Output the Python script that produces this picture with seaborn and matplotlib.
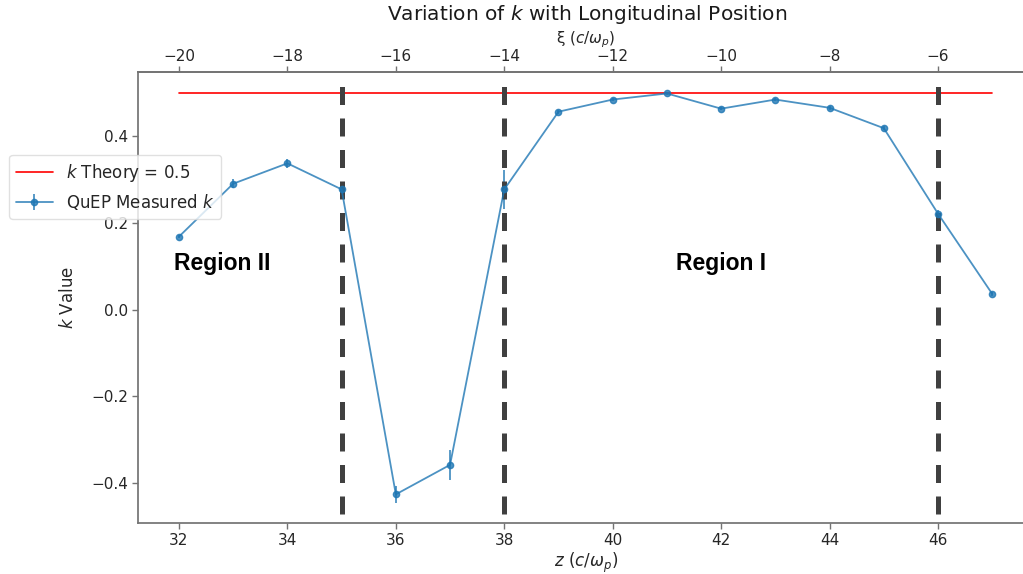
import numpy as np
import pandas as pd
import matplotlib
matplotlib.use("Agg")
import matplotlib.pyplot as plt
import seaborn as sns

# Measured k along the beam (z in units of c/omega_p)
z_pos = [32, 33, 34, 35, 36, 37, 38, 39, 40, 41, 42, 43, 44, 45, 46, 47]
k_measured = [0.168, 0.290, 0.337, 0.277, -0.426, -0.358, 0.277, 0.456,
              0.484, 0.498, 0.463, 0.484, 0.465, 0.418, 0.221, 0.036]
k_err = [0.004, 0.010, 0.010, 0.015, 0.020, 0.035, 0.045, 0.005,
         0.004, 0.004, 0.004, 0.004, 0.004, 0.005, 0.008, 0.004]
k_theory = 0.5
xi_offset = 52          # xi = z - xi_offset
region_bounds = [35, 38, 46]
region_labels = ["Region II", "Region I"]
region_label_z = [32.8, 42.0]
region_label_k = 0.107

sns.set_theme(style="white")
plt.rcParams["font.family"] = ["DejaVu Sans"]
plt.rcParams["axes.edgecolor"] = "0.45"
plt.rcParams["xtick.color"] = "0.45"
plt.rcParams["ytick.color"] = "0.45"
plt.rcParams["xtick.labelcolor"] = "0.15"
plt.rcParams["ytick.labelcolor"] = "0.15"

df = pd.DataFrame({"z": z_pos, "k": k_measured, "err": k_err})
theory_df = pd.DataFrame({"z": [z_pos[0], z_pos[-1]], "k": [k_theory, k_theory]})

fig = plt.figure(figsize=(10.23, 5.74), dpi=100)
W, H = 1023, 574
ax = fig.add_axes([138.3 / W, (H - 523) / H, 894.6 / W, 451 / H])

sns.lineplot(data=theory_df, x="z", y="k", color="red", linewidth=1.2,
             label=r"$k$ Theory = 0.5", ax=ax)
ax.errorbar(df["z"], df["k"], yerr=df["err"], color="#1f77b4", linewidth=1.3,
            marker="o", markersize=4.5, elinewidth=1.3, capsize=0, alpha=0.8,
            label=r"QuEP Measured $k$")

for zb in region_bounds:
    ax.axvline(zb, ymin=0.02, ymax=0.9956, color="0.25", linewidth=3.6,
               linestyle=(0, (3.6, 2.7)))

for lab, zx in zip(region_labels, region_label_z):
    ax.text(zx, region_label_k, lab, fontsize=16.5, fontweight="bold",
            family="Liberation Sans", color="black", ha="center", va="center")

ax.set_xlim(31.25, 47.75)
ax.set_ylim(-0.492, 0.5475)
ax.set_xticks(np.arange(32, 47, 2))
ax.set_yticks([-0.4, -0.2, 0.0, 0.2, 0.4])
ax.tick_params(axis="both", which="major", direction="out", length=4,
               width=1, labelsize=11, bottom=True, left=True)
ax.spines["right"].set_visible(False)
ax.set_xlabel(r"$z$ ($c/\omega_p$)", fontsize=12, color="0.15", labelpad=2)
ax.set_ylabel(r"$k$ Value", fontsize=12, color="0.15", labelpad=10)

top = ax.secondary_xaxis("top", functions=(lambda v: v - xi_offset,
                                           lambda v: v + xi_offset))
top.set_xticks(np.arange(-20, -5, 2))
top.tick_params(axis="x", direction="out", length=4, width=1, labelsize=11,
                pad=1.5)
top.set_xlabel(r"ξ ($c/\omega_p$)", fontsize=11, color="0.15", labelpad=4.5)

fig.text(587 / W, 1 - 15 / H, r"Variation of $k$ with Longitudinal Position",
         fontsize=14.5, color="0.1", ha="center", va="center")

leg = ax.legend(loc="upper left", bbox_to_anchor=(-0.144, 0.816),
                borderaxespad=0, fontsize=12, frameon=True, framealpha=0.8,
                fancybox=True, edgecolor="0.85", handlelength=2.2)

fig.savefig("out.png", dpi=100)
